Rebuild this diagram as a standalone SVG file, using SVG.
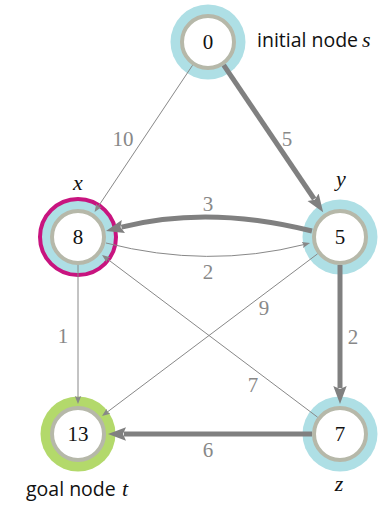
<svg xmlns="http://www.w3.org/2000/svg" width="383" height="509" viewBox="0 0 383 509">
<style>
.halo{fill:#aedfe5}
.goal{fill:#b3d96b}
.cur{fill:#aedfe5;stroke:#c8147f;stroke-width:4}
.ring{fill:#ffffff;stroke:#b6b8a9;stroke-width:4}
.serif{font-family:'Liberation Serif','Times New Roman','DejaVu Serif',serif}
.num{font-size:21px;fill:#111;text-anchor:middle}
.lbl{font-size:21px;fill:#888888;text-anchor:middle}
.var{font-style:italic;font-size:22px;fill:#111;text-anchor:middle}
.cap{font-family:'Open Sans','Noto Sans',sans-serif;font-size:19.5px;fill:#111}
.thick{fill:none;stroke:#808080;stroke-width:5;marker-end:url(#ahThick)}
.thin{fill:none;stroke:#888888;stroke-width:1;marker-end:url(#ahThin)}
</style>
<defs>
<marker id="ahThick" markerUnits="userSpaceOnUse" markerWidth="20" markerHeight="16" viewBox="0 -8 20 16" refX="2" refY="0" orient="auto">
<path d="M0,-6.7 L18,0 L0,6.7 L3,0 Z" fill="#808080"/>
</marker>
<marker id="ahThin" markerUnits="userSpaceOnUse" markerWidth="10" markerHeight="8" viewBox="0 -4 10 8" refX="2" refY="0" orient="auto">
<path d="M0,-3.2 L8,0 L0,3.2 L1.5,0 Z" fill="#888888"/>
</marker>
</defs>

<g id="node-s">
<circle class="halo" cx="208" cy="42" r="37.5"/>
<circle class="ring" cx="208" cy="42" r="26"/>
<text class="num serif" x="208" y="49">0</text>
<text class="cap" x="257" y="47">initial node<tspan class="serif" x="362" font-style="italic" font-size="22px">s</tspan></text>
</g>
<g id="node-x">
<circle class="cur" cx="78" cy="237" r="38"/>
<circle class="ring" cx="78" cy="237" r="26"/>
<text class="num serif" x="78" y="244">8</text>
<text class="var serif" x="78" y="190">x</text>
</g>
<g id="node-y">
<circle class="halo" cx="340" cy="237" r="37.5"/>
<circle class="ring" cx="340" cy="237" r="26"/>
<text class="num serif" x="340" y="244">5</text>
<text class="var serif" x="341" y="186">y</text>
</g>
<g id="node-t">
<circle class="goal" cx="78" cy="434" r="37.5"/>
<circle class="ring" cx="78" cy="434" r="26"/>
<text class="num serif" x="78" y="441">13</text>
<text class="cap" x="26" y="496">goal node<tspan class="serif" x="122" font-style="italic" font-size="22px">t</tspan></text>
</g>
<g id="node-z">
<circle class="halo" cx="340" cy="434" r="37.5"/>
<circle class="ring" cx="340" cy="434" r="26"/>
<text class="num serif" x="340" y="441">7</text>
<text class="var serif" x="339" y="491">z</text>
</g>

<g id="edges">
<line class="thin" x1="192.5" y1="65.3" x2="97.9" y2="207"/>
<line class="thick" x1="223.7" y1="65.2" x2="314.2" y2="199"/>
<path class="thick" d="M312,231 Q209,205 121.5,227.1"/>
<path class="thin" d="M106,243 Q208,269 304.2,244.5"/>
<line class="thin" x1="317.6" y1="253.8" x2="106.8" y2="412.4"/>
<line class="thin" x1="78" y1="265" x2="78" y2="398"/>
<line class="thick" x1="340" y1="265" x2="340" y2="388"/>
<line class="thin" x1="317.6" y1="417.2" x2="106.8" y2="258.6"/>
<line class="thick" x1="312" y1="434" x2="124" y2="434"/>
<g id="edge-labels">
<text class="lbl serif" x="123" y="146">10</text>
<text class="lbl serif" x="287" y="146">5</text>
<text class="lbl serif" x="208" y="211">3</text>
<text class="lbl serif" x="208" y="279">2</text>
<text class="lbl serif" x="264" y="315">9</text>
<text class="lbl serif" x="63" y="343">1</text>
<text class="lbl serif" x="353" y="344">2</text>
<text class="lbl serif" x="253" y="392">7</text>
<text class="lbl serif" x="208" y="457">6</text>
</g>
</g>
</svg>
